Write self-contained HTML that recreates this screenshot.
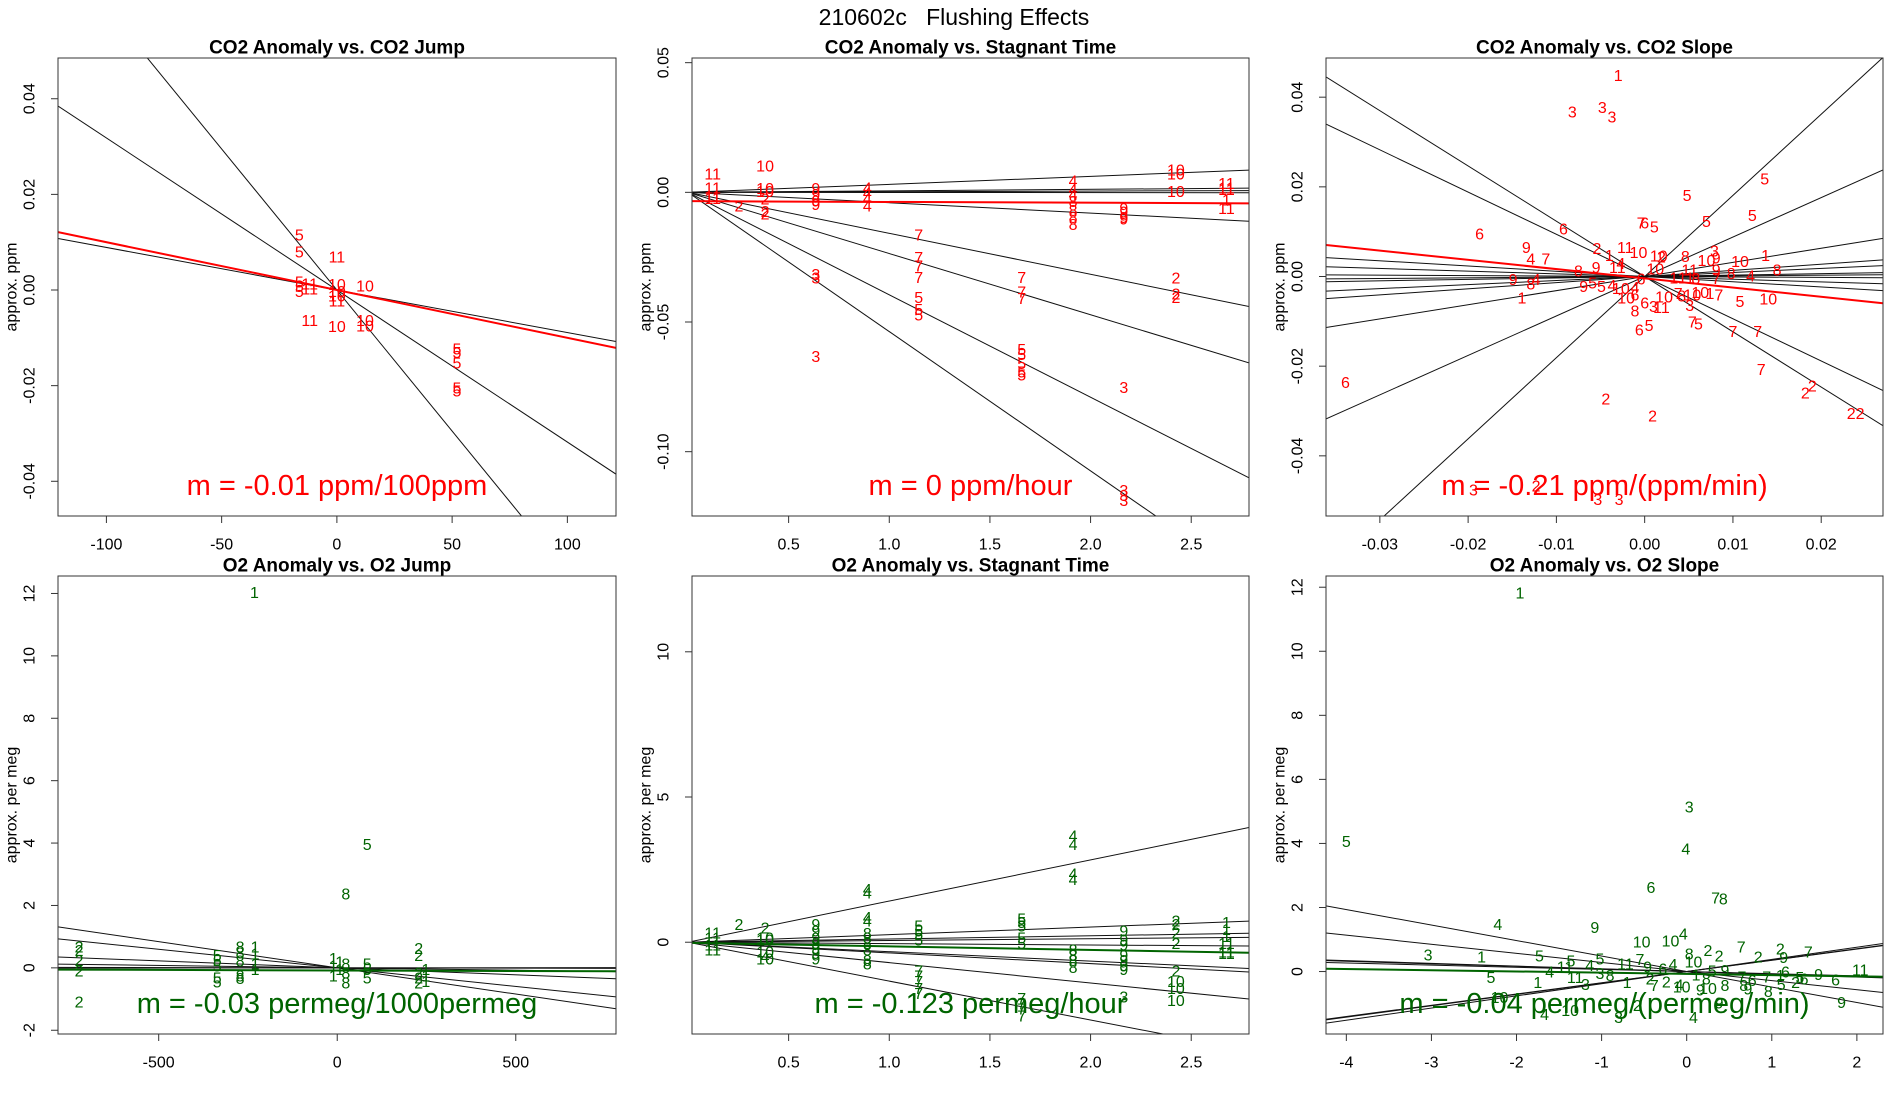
<!DOCTYPE html>
<html><head><meta charset="utf-8"><title>210602c Flushing Effects</title>
<style>
html,body{margin:0;padding:0;background:#fff;}
svg{display:block;font-family:"Liberation Sans",Arial,sans-serif;}
</style></head>
<body>
<svg id="chart" width="1900" height="1100" viewBox="0 0 1900 1100" xmlns="http://www.w3.org/2000/svg">
<rect width="1900" height="1100" fill="#fff"/>
<text x="954" y="17" text-anchor="middle" dominant-baseline="central" font-size="23" fill="#000">210602c&#160;&#160;&#160;Flushing Effects</text>
</svg>
<script>
// ---------- Panel 1: CO2 Anomaly vs. CO2 Jump ----------
const p1Labels = ["5","5","5","5","5","11","11","11","10","10","10","11","10","11","10","10","10","5","5","5","5","5"];
const p1X = [-16.3,-16.3,-16.3,-16.3,-16.3,-11.8,-11.8,0,0,12.2,0,0,0,-11.8,0,12.2,12.2,52.1,52.1,52.1,52.1,52.1];
const p1Y = [0.0113,0.0077,0.0015,0.0005,-0.0005,0.001,0,0.0067,0.0009,0.0006,-0.0005,-0.0025,-0.0015,-0.0066,-0.0078,-0.0066,-0.0077,-0.0125,-0.0133,-0.0155,-0.0207,-0.0213];
const p1Slopes = [-0.000089,-0.000318,-0.00059];
const p1Intercepts = [0,0,0];
const p1FitSlope = [-0.0001];
const p1FitIntercept = [0];
const p1XTicks = [-100,-50,0,50,100];
const p1XTickLabels = ["-100","-50","0","50","100"];
const p1YTicks = [-0.04,-0.02,0,0.02,0.04];
const p1YTickLabels = ["-0.04","-0.02","0.00","0.02","0.04"];

// ---------- Panel 2: CO2 Anomaly vs. Stagnant Time ----------
const p2Labels = ["11","11","11","11","2","10","10","10","2","2","2","9","9","9","9","3","3","3","4","4","4","4","7","7","7","7","5","5","5","7","7","7","5","5","5","5","5","4","4","4","8","8","8","8","9","9","9","9","3","3","3","3","10","10","10","2","2","2","11","11","11","1","11"];
const p2X = [0.123,0.123,0.123,0.123,0.253,0.383,0.383,0.383,0.383,0.383,0.383,0.635,0.635,0.635,0.635,0.635,0.635,0.635,0.891,0.891,0.891,0.891,1.146,1.146,1.146,1.146,1.146,1.146,1.146,1.658,1.658,1.658,1.658,1.658,1.658,1.658,1.658,1.913,1.913,1.913,1.913,1.913,1.913,1.913,2.165,2.165,2.165,2.165,2.165,2.165,2.165,2.165,2.424,2.424,2.424,2.424,2.424,2.424,2.675,2.675,2.675,2.675,2.675];
const p2Y = [0.0067,0.0013,-0.002,-0.0027,-0.0056,0.0097,0.001,0,-0.003,-0.0078,-0.0087,0.001,-0.0013,-0.0038,-0.005,-0.032,-0.0335,-0.0637,0.0013,-0.0007,-0.0027,-0.0056,-0.0168,-0.0255,-0.0288,-0.0332,-0.0409,-0.0456,-0.0476,-0.0332,-0.0389,-0.0413,-0.061,-0.063,-0.0664,-0.0697,-0.0708,0.004,0.0007,-0.0013,-0.004,-0.0074,-0.01,-0.0127,-0.0067,-0.008,-0.01,-0.0107,-0.0757,-0.1153,-0.1173,-0.1193,0.0083,0.0067,0,-0.0335,-0.0395,-0.0409,0.003,0.0013,0.0007,-0.0034,-0.0067];
const p2Slopes = [0.00308,0.00058,0.00024,-0.00005,-0.0040,-0.0158,-0.0236,-0.0395,-0.0537];
const p2Intercepts = [0,0,0,0,0,0,0,0,0];
const p2FitSlope = [-0.0003];
const p2FitIntercept = [-0.0034];
const p2XTicks = [0.5,1.0,1.5,2.0,2.5];
const p2XTickLabels = ["0.5","1.0","1.5","2.0","2.5"];
const p2YTicks = [-0.10,-0.05,0,0.05];
const p2YTickLabels = ["-0.10","-0.05","0.00","0.05"];

// ---------- Panel 3: CO2 Anomaly vs. CO2 Slope ----------
const p3Labels = ["1","3","3","3","5","5","5","5","7","6","5","6","6","9","4","7","2","1","11","10","10","2","8","3","10","9","10","1","8","4","11","9","8","9","8","4","11","1","11","8","7","9","8","4","1","9","5","5","4","10","4","6","10","10","6","6","3","11","10","7","8","10","10","1","7","3","5","10","8","6","5","7","5","7","7","7","2","2","2","2","6","2","2","3","2","3","3"];
const p3X = [-0.0030,-0.0082,-0.0048,-0.0037,0.0136,0.0048,0.0070,0.0122,-0.0004,0.0000,0.0011,-0.0187,-0.0092,-0.0134,-0.0129,-0.0112,-0.0054,-0.0040,-0.0022,-0.0007,0.0016,0.0019,0.0046,0.0079,0.0070,0.0081,0.0108,0.0137,0.0150,-0.0027,-0.0031,-0.0055,-0.0075,0.0081,0.0098,0.0120,0.0051,0.0033,0.0047,0.0058,0.0081,-0.0149,-0.0129,-0.0123,-0.0139,-0.0069,-0.0059,-0.0049,-0.0037,-0.0027,-0.0011,-0.0004,0.0012,-0.0021,-0.0011,0.0000,0.0010,0.0019,0.0022,0.0038,0.0042,0.0054,0.0063,0.0074,0.0084,0.0051,0.0108,0.0140,-0.0011,-0.0006,0.0005,0.0054,0.0061,0.0100,0.0128,0.0132,0.0182,0.0190,0.0234,0.0244,-0.0339,-0.0044,0.0009,-0.0194,-0.0123,-0.0053,-0.0029];
const p3Y = [0.0446,0.0365,0.0375,0.0354,0.0215,0.0178,0.0120,0.0134,0.0117,0.0117,0.0108,0.0093,0.0104,0.0063,0.0037,0.0037,0.0060,0.0045,0.0062,0.0051,0.0043,0.0041,0.0042,0.0055,0.0033,0.0039,0.0031,0.0045,0.0012,0.0027,0.0018,0.0018,0.0010,0.0012,0.0004,-0.0001,0.0012,-0.0005,-0.0005,-0.0007,-0.0007,-0.0009,-0.0019,-0.0009,-0.0050,-0.0025,-0.0017,-0.0025,-0.0022,-0.0029,-0.0027,-0.0008,0.0014,-0.0050,-0.0044,-0.0061,-0.0069,-0.0071,-0.0048,-0.0040,-0.0046,-0.0044,-0.0038,-0.0040,-0.0044,-0.0067,-0.0058,-0.0052,-0.0079,-0.0121,-0.0112,-0.0104,-0.0108,-0.0125,-0.0125,-0.0210,-0.0262,-0.0247,-0.0308,-0.0308,-0.0239,-0.0276,-0.0313,-0.0478,-0.0469,-0.0500,-0.0500];
const p3Slopes = [1.81,0.88,0.315,0.137,0.09,0.032,0.015,-0.01,-0.06,-0.117,-0.942,-1.233];
const p3Intercepts = [0,0,0,0,0,0,0,0,0,0,0,0];
const p3FitSlope = [-0.2058];
const p3FitIntercept = [-0.0004];
const p3XTicks = [-0.03,-0.02,-0.01,0,0.01,0.02];
const p3XTickLabels = ["-0.03","-0.02","-0.01","0.00","0.01","0.02"];
const p3YTicks = [-0.04,-0.02,0,0.02,0.04];
const p3YTickLabels = ["-0.04","-0.02","0.00","0.02","0.04"];

// ---------- Panel 4: O2 Anomaly vs. O2 Jump ----------
const p4Labels = ["1","5","8","2","2","2","2","2","5","5","5","5","5","8","8","8","8","8","1","1","1","1","1","1","1","1","1","8","8","8","5","5","5","2","2","2","2","2","1","1","1"];
const p4X = [-232,84,24,-723,-723,-723,-723,-723,-336,-336,-336,-336,-336,-272,-272,-272,-272,-272,-230,-230,-230,-230,-11,-11,-11,7,7,24,24,24,84,84,84,228,228,228,228,228,248,248,248];
const p4Y = [12.0,3.92,2.33,0.64,0.53,0.2,-0.13,-1.13,0.37,0.2,0.03,-0.36,-0.49,0.64,0.44,0.18,-0.3,-0.38,0.64,0.42,0.09,-0.08,0.26,0.03,-0.3,0.15,-0.08,0.09,-0.19,-0.52,0.09,-0.08,-0.36,0.59,0.37,-0.19,-0.36,-0.52,-0.08,-0.3,-0.47];
const p4Slopes = [-0.00168,-0.00119,-0.000446,-0.000154,0.00001,-0.00002];
const p4Intercepts = [0,0,0,0,0,0];
const p4FitSlope = [-0.000035];
const p4FitIntercept = [-0.083];
const p4XTicks = [-500,0,500];
const p4XTickLabels = ["-500","0","500"];
const p4YTicks = [-2,0,2,4,6,8,10,12];
const p4YTickLabels = ["-2","0","2","4","6","8","10","12"];

// ---------- Panel 5: O2 Anomaly vs. Stagnant Time ----------
const p5Labels = ["11","11","11","11","2","2","10","10","10","4","10","9","9","9","9","9","9","9","4","4","4","4","8","8","8","8","8","8","5","5","5","5","7","7","7","7","7","5","5","5","5","5","7","7","7","7","4","4","4","4","8","8","8","8","9","9","9","9","9","9","9","3","2","2","2","2","2","10","10","10","1","1","1","11","11","11"];
const p5X = [0.123,0.123,0.123,0.123,0.253,0.383,0.383,0.383,0.383,0.383,0.383,0.635,0.635,0.635,0.635,0.635,0.635,0.635,0.891,0.891,0.891,0.891,0.891,0.891,0.891,0.891,0.891,0.891,1.146,1.146,1.146,1.146,1.146,1.146,1.146,1.146,1.146,1.658,1.658,1.658,1.658,1.658,1.658,1.658,1.658,1.658,1.913,1.913,1.913,1.913,1.913,1.913,1.913,1.913,2.165,2.165,2.165,2.165,2.165,2.165,2.165,2.165,2.424,2.424,2.424,2.424,2.424,2.424,2.424,2.424,2.675,2.675,2.675,2.675,2.675,2.675];
const p5Y = [0.29,0.11,-0.13,-0.31,0.58,0.46,0.11,0.05,-0.37,-0.55,-0.61,0.58,0.35,0.11,-0.07,-0.25,-0.43,-0.61,1.78,1.66,0.82,0.70,0.26,0.11,-0.07,-0.31,-0.67,-0.79,0.52,0.35,0.23,0.05,-1.03,-1.2,-1.38,-1.62,-1.8,0.76,0.64,0.52,0.11,-0.07,-1.98,-2.16,-2.34,-2.57,3.62,3.33,2.31,2.13,-0.31,-0.49,-0.67,-0.91,0.35,0.05,-0.13,-0.49,-0.67,-0.85,-0.97,-1.92,0.7,0.58,0.29,-0.07,-1.03,-1.38,-1.62,-2.04,0.64,0.41,0.17,-0.07,-0.37,-0.43];
const p5Slopes = [1.417,0.261,0.111,0.06,-0.047,-0.325,-0.368,-0.702,-1.339];
const p5Intercepts = [0,0,0,0,0,0,0,0,0];
const p5FitSlope = [-0.123];
const p5FitIntercept = [-0.02];
const p5XTicks = [0.5,1.0,1.5,2.0,2.5];
const p5XTickLabels = ["0.5","1.0","1.5","2.0","2.5"];
const p5YTicks = [0,5,10];
const p5YTickLabels = ["0","5","10"];

// ---------- Panel 6: O2 Anomaly vs. O2 Slope ----------
const p6Labels = ["1","5","3","4","6","7","8","4","9","10","10","4","3","1","5","5","5","7","2","7","2","2","8","10","2","9","11","9","6","5","4","11","4","3","8","11","7","9","6","4","1","8","5","9","7","6","7","1","6","5","2","6","1","11","3","1","2","7","2","4","10","9","8","8","9","8","5","10","9","10","4","10","3","2","4","9"];
const p6X = [-1.96,-4.00,0.03,-0.01,-0.42,0.34,0.43,-2.22,-1.08,-0.53,-0.19,-0.04,-3.04,-2.41,-1.73,-1.36,-1.02,0.64,1.10,1.43,0.25,0.38,0.03,0.08,0.84,1.14,2.04,1.55,1.75,-2.30,-1.61,-1.43,-1.14,-1.02,-0.90,-0.72,-0.55,-0.46,-0.28,-0.16,0.11,0.23,0.30,0.45,0.65,0.77,0.94,1.10,1.16,1.33,1.28,1.38,-1.75,-1.31,-1.19,-0.70,-0.43,-0.38,-0.24,-0.09,-0.06,0.16,0.45,0.67,0.72,0.96,1.11,0.25,1.82,-2.20,-1.67,-1.37,-0.80,-0.58,0.08,0.38];
const p6Y = [11.79,4.03,5.11,3.79,2.59,2.26,2.23,1.43,1.35,0.89,0.93,1.14,0.48,0.42,0.46,0.30,0.36,0.74,0.67,0.58,0.62,0.46,0.52,0.27,0.42,0.40,0.02,-0.12,-0.29,-0.22,-0.04,0.11,0.15,-0.10,-0.16,0.21,0.34,0.11,0.05,0.19,-0.14,-0.26,-0.01,0.00,-0.20,-0.31,-0.20,-0.16,-0.04,-0.22,-0.38,-0.26,-0.38,-0.22,-0.43,-0.38,-0.26,-0.47,-0.35,-0.45,-0.51,-0.60,-0.47,-0.47,-0.57,-0.66,-0.43,-0.56,-0.99,-0.84,-1.37,-1.24,-1.46,-1.09,-1.46,-1.01];
const p6Slopes = [-0.484,-0.284,-0.085,-0.08,-0.067,0.356,0.351,0.38];
const p6Intercepts = [0,0,0,0,0,0,0,0];
const p6FitSlope = [-0.038];
const p6FitIntercept = [-0.073];
const p6XTicks = [-4,-3,-2,-1,0,1,2];
const p6XTickLabels = ["-4","-3","-2","-1","0","1","2"];
const p6YTicks = [0,2,4,6,8,10,12];
const p6YTickLabels = ["0","2","4","6","8","10","12"];

const NS = "http://www.w3.org/2000/svg";
const svg = document.getElementById("chart");
function mk(tag, attrs, parent){
  const e = document.createElementNS(NS, tag);
  for (const k in attrs) e.setAttribute(k, attrs[k]);
  (parent || svg).appendChild(e);
  return e;
}

function drawPanel(cfg){
  const L=cfg.left, T=cfg.top, W=cfg.width, H=cfg.height;
  const xs = v => L + (v - cfg.xlim[0]) / (cfg.xlim[1]-cfg.xlim[0]) * W;
  const ys = v => T + (cfg.ylim[1] - v) / (cfg.ylim[1]-cfg.ylim[0]) * H;
  const g = mk("g", {});
  
  
  const clip = mk("clipPath", {id: cfg.id+"-clip"}, g);
  mk("rect", {x:L, y:T, width:W, height:H}, clip);

  const t = mk("text", {x:L+W/2, y:T-10, "text-anchor":"middle", "dominant-baseline":"central", "font-size":19, "font-weight":"bold", fill:"#000"}, g);
  t.textContent = cfg.title;
  
  

  const yl = mk("text", {x:0, y:0, transform:"translate("+(L-46)+","+(T+H/2)+") rotate(-90)", "text-anchor":"middle", "dominant-baseline":"central", "font-size":16, fill:"#000"}, g);
  yl.textContent = cfg.ylab;
  
  

  const xa = mk("g", {}, g);
  
  
  mk("line", {x1:xs(cfg.xticks[0]), x2:xs(cfg.xticks[cfg.xticks.length-1]), y1:T+H, y2:T+H, stroke:"#333", "stroke-width":1}, xa);
  cfg.xticks.forEach((v,i)=>{
    const tk = mk("line", {x1:xs(v), x2:xs(v), y1:T+H, y2:T+H+7, stroke:"#333", "stroke-width":1}, xa);
    
    
    const tl = mk("text", {x:xs(v), y:T+H+29, "text-anchor":"middle", "dominant-baseline":"central", "font-size":16, fill:"#000"}, xa);
    tl.textContent = cfg.xlabels[i];
    
    
  });
  const ya = mk("g", {}, g);
  
  
  mk("line", {x1:L, x2:L, y1:ys(cfg.yticks[0]), y2:ys(cfg.yticks[cfg.yticks.length-1]), stroke:"#333", "stroke-width":1}, ya);
  cfg.yticks.forEach((v,i)=>{
    const tk = mk("line", {x1:L-7, x2:L, y1:ys(v), y2:ys(v), stroke:"#333", "stroke-width":1}, ya);
    
    
    const tl = mk("text", {x:0, y:0, transform:"translate("+(L-28)+","+ys(v)+") rotate(-90)", "text-anchor":"middle", "dominant-baseline":"central", "font-size":16, fill:"#000"}, ya);
    tl.textContent = cfg.ylabels[i];
    
    
  });

  const plot = mk("g", {"clip-path":"url(#"+cfg.id+"-clip)"}, g);
  
  
  const x0 = cfg.xlim[0], x1 = cfg.xlim[1];
  cfg.slopes.forEach((m,i)=>{
    const b = cfg.intercepts[i];
    const ln = mk("line", {x1:xs(x0), y1:ys(b+m*x0), x2:xs(x1), y2:ys(b+m*x1), stroke:"#111", "stroke-width":1}, plot);
    
    
  });
  cfg.labels.forEach((lab,i)=>{
    const p = mk("text", {x:xs(cfg.px[i]), y:ys(cfg.py[i]), "text-anchor":"middle", "dominant-baseline":"central", "font-size":16, fill:cfg.color}, plot);
    p.textContent = lab;
    
    
  });
  const fm = cfg.fitSlope[0], fb = cfg.fitIntercept[0];
  const fl = mk("line", {x1:xs(x0), y1:ys(fb+fm*x0), x2:xs(x1), y2:ys(fb+fm*x1), stroke:cfg.color, "stroke-width":2}, plot);
  
  
  const st = mk("text", {x:L+W/2, y:T+H-30, "text-anchor":"middle", "dominant-baseline":"central", "font-size":29, fill:cfg.color}, g);
  st.textContent = cfg.slopeText;
  
  
  const bx = mk("rect", {x:L, y:T, width:W, height:H, fill:"none", stroke:"#333", "stroke-width":1}, g);
  
  
}

const RED = "#ff0000", GREEN = "#006400";
drawPanel({id:"p1", left:58, top:58, width:558, height:458, xlim:[-121.0,121.1], ylim:[-0.04726,0.04852],
  title:"CO2 Anomaly vs. CO2 Jump", ylab:"approx. ppm", color:RED,
  xticks:p1XTicks, xlabels:p1XTickLabels, yticks:p1YTicks, ylabels:p1YTickLabels,
  labels:p1Labels, px:p1X, py:p1Y, slopes:p1Slopes, intercepts:p1Intercepts,
  fitSlope:p1FitSlope, fitIntercept:p1FitIntercept, slopeText:"m = -0.01 ppm/100ppm"});
drawPanel({id:"p2", left:692, top:58, width:557, height:458, xlim:[0.02,2.787], ylim:[-0.1248,0.0518],
  title:"CO2 Anomaly vs. Stagnant Time", ylab:"approx. ppm", color:RED,
  xticks:p2XTicks, xlabels:p2XTickLabels, yticks:p2YTicks, ylabels:p2YTickLabels,
  labels:p2Labels, px:p2X, py:p2Y, slopes:p2Slopes, intercepts:p2Intercepts,
  fitSlope:p2FitSlope, fitIntercept:p2FitIntercept, slopeText:"m = 0 ppm/hour"});
drawPanel({id:"p3", left:1326, top:58, width:557, height:458, xlim:[-0.0361,0.0270], ylim:[-0.05342,0.04874],
  title:"CO2 Anomaly vs. CO2 Slope", ylab:"approx. ppm", color:RED,
  xticks:p3XTicks, xlabels:p3XTickLabels, yticks:p3YTicks, ylabels:p3YTickLabels,
  labels:p3Labels, px:p3X, py:p3Y, slopes:p3Slopes, intercepts:p3Intercepts,
  fitSlope:p3FitSlope, fitIntercept:p3FitIntercept, slopeText:"m = -0.21 ppm/(ppm/min)"});
drawPanel({id:"p4", left:58, top:576, width:558, height:458, xlim:[-782,780.7], ylim:[-2.12,12.56],
  title:"O2 Anomaly vs. O2 Jump", ylab:"approx. per meg", color:GREEN,
  xticks:p4XTicks, xlabels:p4XTickLabels, yticks:p4YTicks, ylabels:p4YTickLabels,
  labels:p4Labels, px:p4X, py:p4Y, slopes:p4Slopes, intercepts:p4Intercepts,
  fitSlope:p4FitSlope, fitIntercept:p4FitIntercept, slopeText:"m = -0.03 permeg/1000permeg"});
drawPanel({id:"p5", left:692, top:576, width:557, height:458, xlim:[0.02,2.787], ylim:[-3.16,12.61],
  title:"O2 Anomaly vs. Stagnant Time", ylab:"approx. per meg", color:GREEN,
  xticks:p5XTicks, xlabels:p5XTickLabels, yticks:p5YTicks, ylabels:p5YTickLabels,
  labels:p5Labels, px:p5X, py:p5Y, slopes:p5Slopes, intercepts:p5Intercepts,
  fitSlope:p5FitSlope, fitIntercept:p5FitIntercept, slopeText:"m = -0.123 permeg/hour"});
drawPanel({id:"p6", left:1326, top:576, width:557, height:458, xlim:[-4.239,2.307], ylim:[-1.95,12.35],
  title:"O2 Anomaly vs. O2 Slope", ylab:"approx. per meg", color:GREEN,
  xticks:p6XTicks, xlabels:p6XTickLabels, yticks:p6YTicks, ylabels:p6YTickLabels,
  labels:p6Labels, px:p6X, py:p6Y, slopes:p6Slopes, intercepts:p6Intercepts,
  fitSlope:p6FitSlope, fitIntercept:p6FitIntercept, slopeText:"m = -0.04 permeg/(permeg/min)"});
</script>
</body></html>
